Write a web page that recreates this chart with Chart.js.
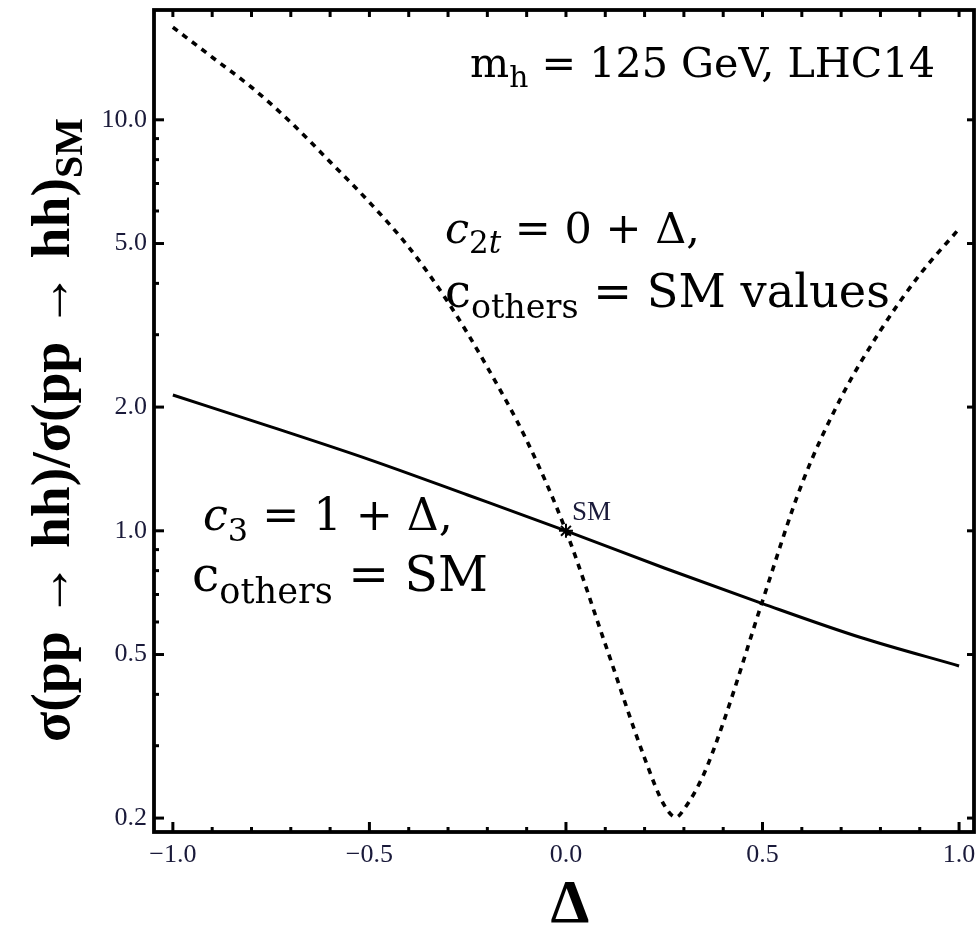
<!DOCTYPE html>
<html><head><meta charset="utf-8">
<script src="https://cdn.jsdelivr.net/npm/chart.js@4.4.1/dist/chart.umd.min.js"></script>
<style>html,body{margin:0;padding:0;background:#fff;overflow:hidden}#wrap{width:979px;height:930px}</style>
</head><body><div id="wrap"><canvas id="c" width="979" height="930"></canvas></div>
<script>
// ---- data ----
const deltaC2t = [-1, -0.9, -0.8, -0.7, -0.6, -0.5, -0.4, -0.3, -0.2, -0.1, 0, 0.1, 0.2, 0.25, 0.28, 0.3, 0.35, 0.4, 0.5, 0.6, 0.7, 0.8, 0.9, 1.0];
const ratioC2t = [16.8, 14.2, 12.0, 9.86, 7.9, 6.3, 4.9, 3.6, 2.5, 1.66, 1.0, 0.53, 0.28, 0.215, 0.201, 0.21, 0.255, 0.341, 0.675, 1.3, 2.11, 3.07, 4.2, 5.43];
const deltaC3 = [-1, -0.75, -0.5, -0.25, 0, 0.25, 0.5, 0.75, 1.0];
const ratioC3 = [2.14, 1.79, 1.49, 1.222, 1.0, 0.812, 0.665, 0.55, 0.469];
const smDelta = [0];
const smRatio = [1];
const xTickValues = [-1, -0.5, 0, 0.5, 1];
const xTickLabels = ['\u22121.0', '\u22120.5', '0.0', '0.5', '1.0'];
const xMinorValues = [-0.9, -0.8, -0.7, -0.6, -0.4, -0.3, -0.2, -0.1, 0.1, 0.2, 0.3, 0.4, 0.6, 0.7, 0.8, 0.9];
const yTickValues = [0.2, 0.5, 1, 2, 5, 10];
const yTickLabels = ['0.2', '0.5', '1.0', '2.0', '5.0', '10.0'];
const yMinorValues = [0.3, 0.4, 0.6, 0.7, 0.8, 0.9, 3, 4, 6, 7, 8, 9];
const xRange = [-1.048, 1.038];
const yRange = [0.185, 18.5];

const serif = '"Liberation Serif", "DejaVu Serif", serif';
const textSerif = '"DejaVu Serif", "Liberation Serif", serif';

function fontStr(s, size, fam) {
  const sz = s.sub ? size * 0.72 : size;
  return (s.italic ? 'italic ' : '') + (s.bold ? 'bold ' : '') + sz.toFixed(2) + 'px ' + fam;
}
function drawRich(ctx, x, y, segs, targetW, fam) {
  let size = 50, w = 0;
  for (const s of segs) { ctx.font = fontStr(s, size, fam); w += ctx.measureText(s.t).width; }
  size = size * targetW / w;
  let cx = x;
  ctx.textAlign = 'left'; ctx.textBaseline = 'alphabetic';
  for (const s of segs) {
    ctx.font = fontStr(s, size, fam);
    ctx.fillText(s.t, cx, y + (s.sub ? size * 0.24 : 0));
    cx += ctx.measureText(s.t).width;
  }
}

const decor = {
  id: 'decor',
  afterDraw(chart) {
    const ctx = chart.ctx, a = chart.chartArea;
    const xs = chart.scales.x, ys = chart.scales.y;
    ctx.save();
    ctx.strokeStyle = '#000'; ctx.lineCap = 'butt';
    // inward ticks
    ctx.lineWidth = 3;
    const tick = (x1, y1, x2, y2) => { ctx.beginPath(); ctx.moveTo(x1, y1); ctx.lineTo(x2, y2); ctx.stroke(); };
    for (const v of xTickValues) { const p = xs.getPixelForValue(v); tick(p, a.bottom, p, a.bottom - 10); tick(p, a.top, p, a.top + 7); }
    for (const v of xMinorValues) { const p = xs.getPixelForValue(v); tick(p, a.bottom, p, a.bottom - 5); tick(p, a.top, p, a.top + 7); }
    for (const v of yTickValues) { const p = ys.getPixelForValue(v); tick(a.left, p, a.left + 10, p); tick(a.right, p, a.right - 7, p); }
    for (const v of yMinorValues) { const p = ys.getPixelForValue(v); tick(a.left, p, a.left + 5, p); }
    // frame
    ctx.lineWidth = 3.8;
    ctx.strokeRect(a.left, a.top, a.right - a.left, a.bottom - a.top);
    // annotations
    ctx.fillStyle = '#000';
    drawRich(ctx, 470, 77, [{t:'m'}, {t:'h', sub:true}, {t:' = 125 GeV, LHC14'}], 465, textSerif);
    drawRich(ctx, 445, 243, [{t:'c', italic:true}, {t:'2', sub:true}, {t:'t', sub:true, italic:true}, {t:' = 0 + \u0394,'}], 255, textSerif);
    drawRich(ctx, 445, 307, [{t:'c'}, {t:'others', sub:true}, {t:' = SM values'}], 445, textSerif);
    drawRich(ctx, 203, 530, [{t:'c', italic:true}, {t:'3', sub:true}, {t:' = 1 + \u0394,'}], 250, textSerif);
    drawRich(ctx, 192, 591, [{t:'c'}, {t:'others', sub:true}, {t:' = SM'}], 296, textSerif);
    // SM label
    const sx = xs.getPixelForValue(smDelta[0]), sy = ys.getPixelForValue(smRatio[0]);
    ctx.fillStyle = '#1a1a3a';
    ctx.font = '27px ' + serif; ctx.textAlign = 'left'; ctx.textBaseline = 'alphabetic';
    ctx.fillText('SM', sx + 6, sy - 11);
    // axis titles
    ctx.fillStyle = '#000';
    ctx.font = 'bold 62px ' + serif; ctx.textAlign = 'center';
    ctx.fillText('\u0394', 570, 922);
    ctx.save();
    ctx.translate(69, 742); ctx.rotate(-Math.PI / 2);
    drawRich(ctx, 0, 0, [{t:'\u03c3(pp \u2192 hh)/\u03c3(pp \u2192 hh)', bold:true}, {t:'SM', bold:true, sub:true}], 624, serif);
    ctx.restore();
    ctx.restore();
  }
};

new Chart(document.getElementById('c'), {
  type: 'line',
  data: {
    datasets: [
      { label: 'c3 = 1 + Δ', data: deltaC3.map((d, i) => ({x: d, y: ratioC3[i]})),
        borderColor: '#000', borderWidth: 3, pointRadius: 0, fill: false, cubicInterpolationMode: 'monotone' },
      { label: 'c2t = 0 + Δ', data: deltaC2t.map((d, i) => ({x: d, y: ratioC2t[i]})),
        borderColor: '#000', borderWidth: 3.6, borderDash: [6, 6], pointRadius: 0, fill: false, cubicInterpolationMode: 'monotone' },
      { label: 'SM', type: 'scatter', data: smDelta.map((d, i) => ({x: d, y: smRatio[i]})),
        pointStyle: 'star', pointRadius: 7, borderColor: '#000', borderWidth: 2, backgroundColor: '#000' }
    ]
  },
  options: {
    responsive: false, animation: false, devicePixelRatio: 1,
    layout: { autoPadding: false, padding: { top: 10, right: 5, left: 0, bottom: 0 } },
    plugins: { legend: { display: false }, tooltip: { enabled: false } },
    scales: {
      x: {
        type: 'linear', min: xRange[0], max: xRange[1],
        grid: { display: false, drawTicks: false }, border: { display: false },
        afterBuildTicks: s => { s.ticks = xTickValues.map(v => ({value: v})); },
        afterFit: s => { s.height = 98; s.paddingLeft = 0; s.paddingRight = 0; },
        ticks: { autoSkip: false, maxRotation: 0, padding: 8, color: '#1a1a3a',
          font: { family: serif, size: 26 },
          callback: (v, i) => xTickLabels[i] }
      },
      y: {
        type: 'logarithmic', min: yRange[0], max: yRange[1],
        grid: { display: false, drawTicks: false }, border: { display: false },
        afterBuildTicks: s => { s.ticks = yTickValues.map(v => ({value: v})); },
        afterFit: s => { s.width = 154; s.paddingTop = 0; s.paddingBottom = 0; },
        ticks: { autoSkip: false, padding: 7, color: '#1a1a3a',
          font: { family: serif, size: 26 },
          callback: (v, i) => yTickLabels[i] }
      }
    }
  },
  plugins: [decor]
});
</script></body></html>
